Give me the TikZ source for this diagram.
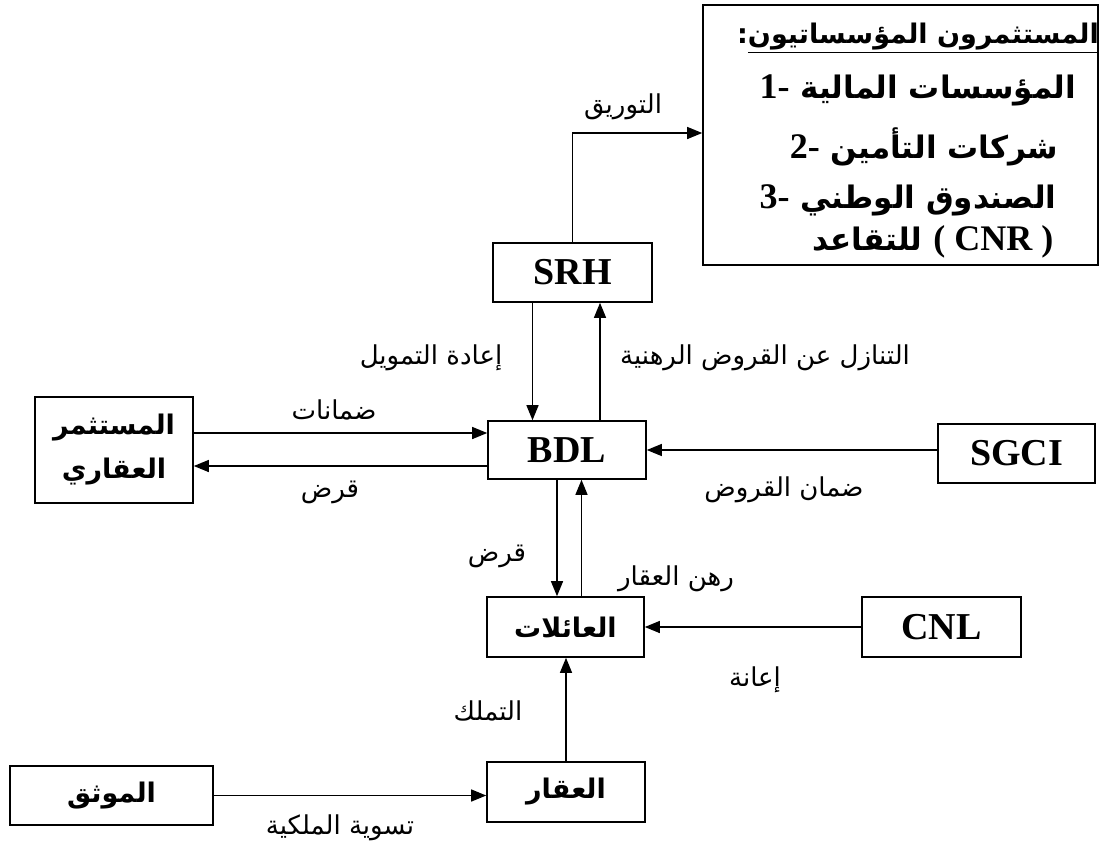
\documentclass[tikz,border=0pt]{standalone}
\usepackage{fontspec}
\setmainfont{Liberation Serif}
\newfontfamily\arabicfont[Script=Arabic]{DejaVu Sans}
\usetikzlibrary{arrows.meta,calc}
\TeXXeTstate=1
\newcommand{\artxt}[1]{\beginR#1\endR}
\newcommand{\num}[1]{{\rmfamily\fontsize{36}{40}\selectfont\bfseries #1}}

\begin{document}
\begin{tikzpicture}[x=1pt,y=-1pt,
  >={Triangle[length=15pt,width=12pt]},
  box/.style={draw,line width=1.6pt,inner sep=0pt,align=center},
  lat/.style={font=\fontsize{38}{40}\selectfont\bfseries},
  arb/.style={font=\arabicfont\fontsize{27}{44}\selectfont\bfseries},
  row/.style={font=\arabicfont\fontsize{31}{44}\selectfont\bfseries},
  lbl/.style={font=\arabicfont\fontsize{26}{30}\selectfont},
  link/.style={->,line width=1.3pt},
]
\useasboundingbox (0,0) rectangle (1102,844);

% boxes
\node[box,minimum width=395,minimum height=260] (inv) at (900.5,135) {};
\node[box,lat,minimum width=159,minimum height=59] (SRH) at (572.5,272.5) {SRH};
\node[box,lat,minimum width=158,minimum height=58] (BDL) at (567,450) {BDL};
\node[box,arb,minimum width=158,minimum height=106] (estate) at (114,450) {\artxt{المستثمر}\\\artxt{العقاري}};
\node[box,lat,minimum width=157,minimum height=59] (SGCI) at (1016.5,453.5) {SGCI};
\node[box,arb,minimum width=157,minimum height=60] (family) at (565.5,627) {\artxt{العائلات}};
\node[box,lat,minimum width=159,minimum height=60] (CNL) at (941.5,627) {CNL};
\node[box,arb,minimum width=158,minimum height=60] (aqar) at (566,792) {\artxt{العقار}};
\node[box,arb,minimum width=203,minimum height=59] (notary) at (111.5,795.5) {\artxt{الموثق}};

% text of the investors box
\node[arb] (inv0) at (918,38) {:\underline{\artxt{المستثمرون المؤسساتيون}}};
\foreach \n/\x/\y/\t in {
  1/918/90/{\num{1-} \artxt{المؤسسات المالية}},
  2/924/147/{\num{2-} \artxt{شركات التأمين}},
  3/908/200/{\num{3-} \artxt{الصندوق الوطني}},
  4/933/242/{\artxt{للتقاعد} \num{( CNR )}}}{
  \node[row] (inv\n) at (\x,\y) {\t};
}

% connectors
\draw[link] (SRH.north) |- ([yshift=2pt]inv.west);
\draw[link] ([xshift=-40pt]SRH.south) -- ([xshift=-40pt]SRH.south |- BDL.north);
\draw[link] ([xshift=33pt]BDL.north) -- ([xshift=33pt]BDL.north |- SRH.south);
\draw[link] ([yshift=17pt]estate.east) -- ([yshift=17pt]estate.east -| BDL.west);
\draw[link] ([yshift=-16pt]BDL.west) -- ([yshift=-16pt]BDL.west -| estate.east);
\draw[link] (SGCI.west |- BDL.east) -- (BDL.east);
\draw[link] ([xshift=-10pt]BDL.south) -- ([xshift=-10pt]BDL.south |- family.north);
\draw[link] ([xshift=16pt]family.north) -- ([xshift=16pt]family.north |- BDL.south);
\draw[link] (CNL.west) -- (family.east);
\draw[link] (aqar.north) -- (aqar.north |- family.south);
\draw[link] (notary.east) -- (notary.east -| aqar.west);

% labels
\node[lbl] (lSec)   at (623,107) {\artxt{التوريق}};
\node[lbl] (lRefi)  at (431,358) {\artxt{إعادة التمويل}};
\node[lbl] (lCess)  at (765,358) {\artxt{التنازل عن القروض الرهنية}};
\node[lbl] (lGuar)  at (334,410) {\artxt{ضمانات}};
\node[lbl] (lLoanA) at (330,492) {\artxt{قرض}};
\node[lbl] (lCred)  at (784,490) {\artxt{ضمان القروض}};
\node[lbl] (lLoanB) at (497,556) {\artxt{قرض}};
\node[lbl] (lMort)  at (676,579) {\artxt{رهن العقار}};
\node[lbl] (lAid)   at (755,680) {\artxt{إعانة}};
\node[lbl] (lOwn)   at (488,711) {\artxt{التملك}};
\node[lbl] (lTitle) at (340,828) {\artxt{تسوية الملكية}};
\end{tikzpicture}
\end{document}
